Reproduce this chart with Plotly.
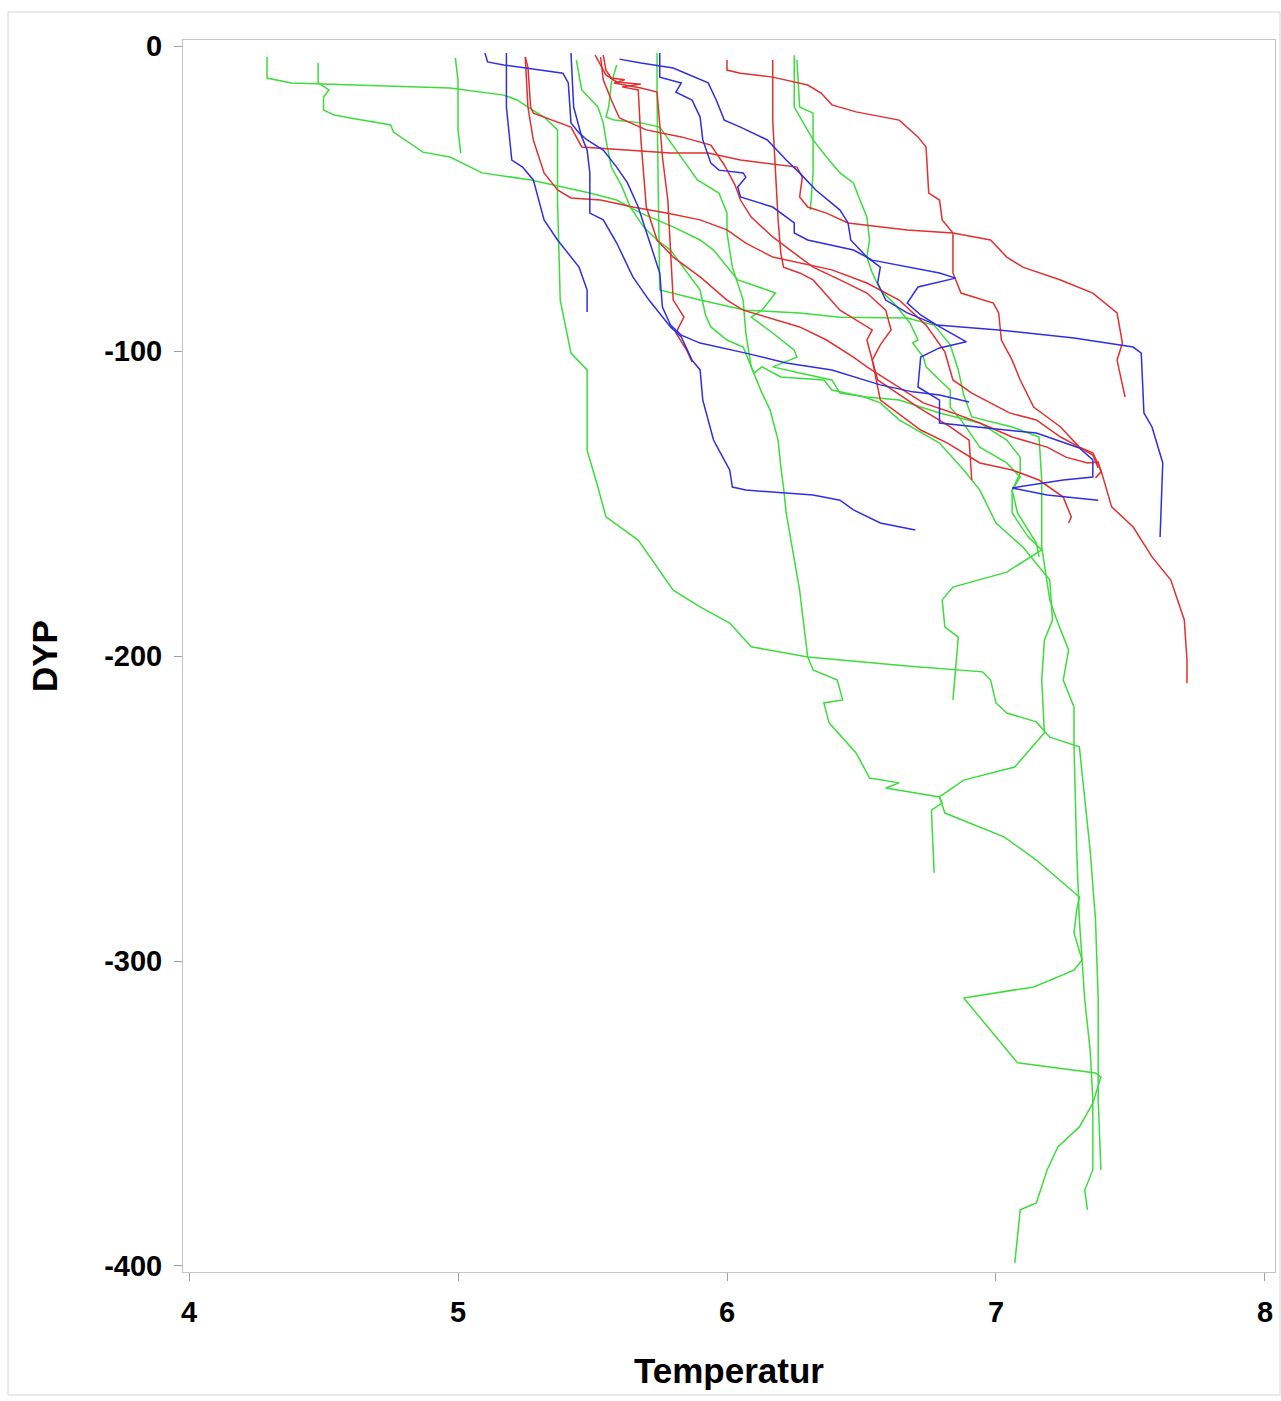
import plotly.graph_objects as go

# ---- Profile data: Temperatur (x) and DYP (y) ----
# Blue profiles
b1_t = [5.10, 5.11, 5.17, 5.39, 5.41, 5.42, 5.45, 5.48, 5.54, 5.59, 5.63, 5.67, 5.71, 5.75, 5.76, 5.79, 5.83, 5.90, 6.07, 6.22, 6.39, 6.57, 6.69, 6.79, 6.90]
b1_d = [-2.3, -5.2, -6.2, -8.9, -12.1, -25.2, -28.5, -30.8, -34.1, -39.7, -44.9, -52.8, -63.6, -74.4, -85.6, -91.5, -94.8, -97.4, -100.7, -103.9, -106.2, -111.1, -113.4, -114.4, -116.7]

b2_t = [5.18, 5.18, 5.20, 5.24, 5.28, 5.32, 5.37, 5.45, 5.48, 5.48]
b2_d = [-2.3, -20.0, -37.4, -39.7, -43.9, -57.0, -63.6, -72.5, -80.0, -87.2]

b3_t = [5.42, 5.43, 5.46, 5.48, 5.49, 5.49, 5.54, 5.59, 5.65, 5.71, 5.79, 5.83, 5.87, 5.90, 5.91, 5.95, 5.97, 6.01, 6.02, 6.07, 6.32, 6.42, 6.47, 6.57, 6.70]
b3_d = [-2.3, -20.0, -29.8, -34.1, -41.6, -54.8, -57.0, -64.6, -75.7, -83.3, -92.1, -95.4, -103.0, -106.2, -116.1, -129.2, -132.5, -139.0, -144.6, -145.6, -147.2, -148.9, -152.1, -156.4, -158.7]

b4_t = [5.60, 5.68, 5.80, 5.93, 5.96, 5.99, 6.05, 6.15, 6.22, 6.27, 6.33, 6.42, 6.45, 6.46, 6.52, 6.57, 6.56, 6.59, 6.67, 6.78, 7.01, 7.29, 7.51, 7.54, 7.55, 7.58, 7.62, 7.61]
b4_d = [-4.3, -5.6, -7.2, -12.1, -17.7, -24.3, -26.6, -30.8, -37.4, -41.6, -47.2, -53.8, -58.0, -63.6, -69.2, -72.5, -77.7, -83.3, -87.5, -91.5, -93.1, -95.7, -98.7, -100.7, -120.3, -124.9, -136.7, -161.0]

b5_t = [5.75, 5.75, 5.83, 5.81, 5.87, 5.90, 5.91, 5.94, 5.97, 6.06, 6.07, 6.04, 6.05, 6.17, 6.25, 6.25, 6.30, 6.47, 6.54, 6.79, 6.85, 6.71, 6.67, 6.72, 6.78, 6.89, 6.79, 6.72, 6.71, 6.79, 6.79, 7.15, 7.31, 7.36, 7.36, 7.25, 7.06, 7.19, 7.38]
b5_d = [-2.3, -10.2, -12.1, -15.1, -17.7, -23.3, -30.8, -38.4, -40.7, -41.6, -43.0, -46.2, -49.5, -52.8, -58.0, -61.3, -63.6, -66.9, -70.2, -74.4, -76.1, -79.0, -84.3, -88.2, -91.5, -97.0, -99.0, -102.0, -111.8, -116.1, -123.6, -126.9, -131.8, -135.7, -141.3, -142.3, -144.9, -147.2, -148.9]

# Red profiles
r1_t = [5.25, 5.26, 5.27, 5.28, 5.42, 5.46, 5.79, 5.93, 6.05, 6.20, 6.26, 6.28, 6.27, 6.30, 6.37, 6.45, 6.67, 6.84, 6.98, 7.04, 7.10, 7.24, 7.36, 7.45, 7.47, 7.45, 7.48]
r1_d = [-3.6, -6.9, -20.0, -22.0, -26.6, -33.1, -35.1, -35.1, -37.4, -39.0, -39.7, -43.0, -49.5, -52.8, -54.8, -58.0, -60.3, -61.3, -63.6, -69.2, -72.5, -76.7, -81.0, -87.5, -97.4, -103.0, -115.1]

r2_t = [5.25, 5.26, 5.28, 5.32, 5.37, 5.42, 5.53, 5.65, 5.78, 5.90, 6.00, 6.07, 6.17, 6.27, 6.39, 6.52, 6.64, 6.74, 6.81, 6.84, 6.91, 7.05, 7.15, 7.24, 7.31, 7.36, 7.39, 7.43, 7.51, 7.58, 7.65, 7.70, 7.71, 7.71]
r2_d = [-3.6, -20.0, -30.8, -41.6, -47.2, -49.8, -50.5, -52.8, -54.8, -57.0, -60.3, -64.6, -69.2, -71.1, -73.4, -77.7, -83.3, -91.5, -100.3, -109.5, -113.8, -120.3, -122.6, -128.2, -131.5, -133.4, -139.0, -151.1, -157.7, -167.5, -175.1, -188.2, -201.3, -208.9]

r3_t = [5.51, 5.53, 5.55, 5.59, 5.68, 5.61, 5.67, 5.68, 5.69, 5.70, 5.74, 5.80, 5.90, 6.00, 6.06, 6.15, 6.27, 6.37, 6.47, 6.52, 6.58, 6.64, 6.73, 6.84, 6.94, 7.06, 7.19, 7.26, 7.34, 7.38, 7.39, 7.37]
r3_d = [-3.0, -6.2, -9.5, -11.8, -12.5, -13.4, -14.4, -30.8, -41.6, -52.8, -63.6, -69.2, -75.7, -83.3, -86.6, -88.9, -92.1, -96.4, -102.0, -105.2, -108.5, -111.8, -117.0, -120.3, -123.6, -128.2, -131.5, -134.8, -136.7, -136.4, -139.7, -141.6]

r4_t = [5.54, 5.55, 5.57, 5.62, 5.58, 5.68, 5.74, 5.75, 5.76, 5.78, 5.79, 5.80, 5.84, 5.81, 5.85, 5.87]
r4_d = [-3.0, -7.9, -10.5, -11.1, -12.1, -13.8, -15.1, -25.2, -36.4, -50.5, -66.9, -83.3, -88.9, -94.1, -99.7, -103.6]

r5_t = [6.00, 6.00, 6.05, 6.17, 6.30, 6.35, 6.39, 6.48, 6.64, 6.71, 6.74, 6.75, 6.79, 6.80, 6.84, 6.84, 6.87, 6.99, 7.01, 7.02, 7.06, 7.09, 7.14, 7.24, 7.31, 7.36, 7.38]
r5_d = [-4.6, -7.9, -8.9, -10.2, -12.8, -15.4, -19.3, -21.6, -24.3, -29.8, -33.1, -48.2, -50.5, -57.0, -61.3, -74.4, -81.0, -84.3, -87.5, -96.4, -103.0, -109.5, -118.4, -124.9, -131.5, -134.1, -138.4]

r6_t = [6.17, 6.17, 6.18, 6.19, 6.20, 6.21, 6.27, 6.32, 6.42, 6.54, 6.52, 6.56, 6.71, 6.83, 6.90, 6.91]
r6_d = [-4.6, -24.3, -40.7, -57.0, -67.9, -72.5, -74.4, -76.7, -86.6, -93.1, -96.4, -109.5, -118.4, -124.9, -129.2, -142.3]

r7_t = [5.53, 5.54, 5.57, 5.60, 5.70, 5.83, 5.94, 5.99, 6.03, 6.05, 6.09, 6.17, 6.25, 6.32, 6.42, 6.52, 6.59, 6.61, 6.57, 6.54, 6.57, 6.72, 6.82, 6.94, 7.06, 7.16, 7.25, 7.28, 7.27]
r7_d = [-3.6, -11.1, -17.7, -23.6, -27.5, -29.8, -32.5, -39.0, -45.6, -50.5, -56.1, -62.6, -67.9, -72.5, -76.7, -81.0, -86.6, -93.1, -98.0, -103.0, -116.1, -125.9, -130.2, -136.7, -139.0, -142.3, -147.9, -154.4, -156.4]

# Green profiles
g1_t = [4.29, 4.29, 4.38, 4.52, 4.97, 5.17, 5.22, 5.26, 5.32, 5.37, 5.37, 5.38, 5.42, 5.48, 5.48, 5.52, 5.55, 5.67, 5.80, 5.90, 6.01, 6.09, 6.30, 6.67, 6.95, 6.98, 7.00, 7.04, 7.15, 7.20, 7.31, 7.32, 7.35, 7.37, 7.38, 7.38, 7.39]
g1_d = [-3.6, -10.5, -12.1, -12.5, -13.8, -16.1, -17.7, -20.0, -23.3, -27.5, -50.5, -83.3, -100.7, -106.2, -132.5, -144.6, -154.4, -162.0, -178.4, -183.9, -189.2, -197.0, -200.3, -203.3, -205.2, -207.9, -215.4, -218.7, -221.6, -226.6, -229.8, -238.4, -263.6, -286.6, -312.8, -345.6, -368.5]

g2_t = [4.48, 4.48, 4.52, 4.50, 4.50, 4.54, 4.60, 4.75, 4.76, 4.87, 4.97, 5.09, 5.27, 5.49, 5.59, 5.68, 5.80, 5.90, 5.95, 6.00, 6.04, 6.15, 6.18, 6.13, 6.09, 6.17, 6.25, 6.26, 6.17, 6.27, 6.39, 6.42, 6.52, 6.64, 6.79, 6.94, 7.04, 7.09, 7.09, 7.06, 7.08, 7.15, 7.16]
g2_d = [-5.6, -12.1, -14.4, -16.7, -21.0, -22.6, -23.6, -25.9, -28.2, -34.8, -36.4, -41.6, -43.9, -48.2, -50.5, -54.8, -59.3, -63.6, -66.9, -72.5, -76.7, -80.0, -81.0, -86.6, -88.9, -94.1, -99.7, -102.0, -105.2, -107.2, -109.5, -113.8, -115.1, -116.1, -120.3, -123.6, -129.2, -134.8, -140.0, -145.6, -153.1, -163.0, -167.5]

g3_t = [4.99, 5.00, 5.00, 5.00, 5.01]
g3_d = [-3.9, -11.1, -20.0, -27.5, -35.1]

g4_t = [5.59, 5.58, 5.57, 5.56, 5.55, 5.58, 5.68, 5.75, 5.83, 5.89, 5.97, 6.00, 6.00, 6.02, 6.06, 6.07, 6.09, 6.11, 6.13, 6.16, 6.19, 6.20, 6.21, 6.22, 6.25, 6.27, 6.28, 6.30, 6.32, 6.41, 6.43, 6.36, 6.38, 6.48, 6.53, 6.64, 6.59, 6.79, 6.80, 6.76, 6.77]
g4_d = [-6.2, -8.9, -12.1, -20.0, -23.3, -24.3, -25.2, -26.6, -36.4, -43.9, -48.2, -54.8, -61.3, -72.5, -83.3, -94.1, -105.2, -109.5, -113.8, -119.3, -129.2, -138.0, -144.6, -153.1, -168.5, -178.4, -185.9, -200.3, -204.6, -207.9, -214.4, -215.4, -222.0, -231.8, -240.0, -241.6, -243.3, -246.2, -248.2, -250.5, -271.1]

g5_t = [5.74, 5.74, 5.745, 5.75, 5.90, 6.07, 6.27, 6.42, 6.67, 6.77, 6.83, 6.86, 6.88, 6.91, 7.06, 7.16, 7.17, 7.17, 7.17, 7.20, 7.23, 7.27, 7.25, 7.29, 7.29, 7.30, 7.31, 7.33, 7.35, 7.36, 7.36, 7.33, 7.34]
g5_d = [-2.3, -17.7, -50.5, -80.0, -83.3, -86.6, -87.5, -88.9, -89.2, -91.5, -98.0, -106.2, -114.4, -121.6, -124.9, -128.2, -142.3, -151.1, -164.3, -181.6, -189.2, -198.0, -207.9, -216.7, -229.8, -263.6, -286.6, -312.8, -329.2, -345.6, -368.5, -375.1, -381.6]

g6_t = [6.25, 6.25, 6.32, 6.37, 6.42, 6.47, 6.49, 6.52, 6.53, 6.52, 6.54, 6.57, 6.62, 6.68, 6.71, 6.69, 6.73, 6.74, 6.79, 6.83, 6.83, 6.87, 6.94, 7.04, 7.09, 7.06, 7.06, 7.12, 7.17, 7.04, 6.84, 6.80, 6.81, 6.86, 6.84]
g6_d = [-3.0, -20.0, -30.8, -36.4, -41.6, -44.9, -49.5, -56.1, -63.6, -69.2, -74.4, -80.0, -84.3, -90.8, -96.4, -97.4, -102.0, -105.2, -109.5, -112.8, -118.4, -122.6, -131.5, -136.7, -141.3, -145.6, -153.1, -161.0, -165.2, -172.5, -177.4, -181.6, -190.5, -193.8, -214.4]

g7_t = [6.26, 6.27, 6.32, 6.32, 6.32, 6.31]
g7_d = [-4.6, -20.0, -22.0, -30.8, -41.6, -53.8]

g8_t = [5.44, 5.46, 5.52, 5.54, 5.55, 5.57, 5.61, 5.64, 5.69, 5.74, 5.79, 5.86, 5.90, 5.92, 5.94, 6.00, 6.06, 6.10, 6.13, 6.20, 6.36, 6.39, 6.51, 6.57, 6.64, 6.79, 6.88, 6.94, 7.00, 7.10, 7.16, 7.20, 7.21, 7.18, 7.17, 7.18, 7.07, 6.88, 6.79, 6.81, 7.03, 7.15, 7.31, 7.30, 7.29, 7.32, 7.29, 7.14, 6.88, 6.98, 7.08, 7.37, 7.39, 7.36, 7.31, 7.23, 7.19, 7.15, 7.09, 7.07]
g8_d = [-4.6, -14.4, -20.0, -25.2, -30.8, -39.7, -46.2, -52.8, -59.3, -63.6, -66.9, -75.1, -80.0, -88.2, -92.1, -96.4, -98.7, -107.2, -105.2, -108.5, -109.5, -112.8, -115.1, -117.0, -122.6, -130.2, -139.0, -145.6, -156.4, -164.3, -170.8, -175.1, -188.2, -194.8, -207.9, -225.2, -236.4, -240.7, -246.2, -251.5, -259.3, -266.9, -279.0, -283.3, -290.8, -299.7, -303.0, -308.5, -312.1, -322.6, -333.4, -336.7, -338.0, -346.6, -354.4, -361.0, -368.5, -379.3, -381.6, -399.0]

x_ticks = [4, 5, 6, 7, 8]
y_ticks = [0, -100, -200, -300, -400]

GREEN = "#3ddc3d"
RED = "#e0302f"
BLUE = "#2f2fe0"

series = [
    (g1_t, g1_d, GREEN), (g2_t, g2_d, GREEN), (g3_t, g3_d, GREEN), (g4_t, g4_d, GREEN),
    (g5_t, g5_d, GREEN), (g6_t, g6_d, GREEN), (g7_t, g7_d, GREEN), (g8_t, g8_d, GREEN),
    (r1_t, r1_d, RED), (r2_t, r2_d, RED), (r3_t, r3_d, RED), (r4_t, r4_d, RED),
    (r5_t, r5_d, RED), (r6_t, r6_d, RED), (r7_t, r7_d, RED),
    (b1_t, b1_d, BLUE), (b2_t, b2_d, BLUE), (b3_t, b3_d, BLUE), (b4_t, b4_d, BLUE), (b5_t, b5_d, BLUE),
]

fig = go.Figure()
for t, d, c in series:
    fig.add_trace(go.Scatter(x=t, y=d, mode="lines", line=dict(color=c, width=1.5),
                             showlegend=False, hoverinfo="skip"))

W, H = 1281, 1401
L, R, T, B = 183, 6, 40, 129

tickfont = dict(family="Liberation Sans, Arial, sans-serif", size=29, color="black", weight="bold")

fig.update_layout(
    width=W, height=H,
    margin=dict(l=L, r=R, t=T, b=B, pad=0),
    paper_bgcolor="white", plot_bgcolor="white",
    xaxis=dict(range=[3.9777, 8.0372], tickvals=x_ticks, ticktext=[str(v) for v in x_ticks],
               showgrid=False, zeroline=False, showline=True, mirror=True,
               linecolor="#c4c4c4", linewidth=1, ticks="outside", ticklen=8,
               tickcolor="#a0a0a0", tickwidth=1, tickfont=tickfont, ticklabelstandoff=6),
    yaxis=dict(range=[-401.97, 1.97], tickvals=y_ticks, ticktext=[str(v) for v in y_ticks],
               showgrid=False, zeroline=False, showline=True, mirror=True,
               linecolor="#c4c4c4", linewidth=1, ticks="outside", ticklen=8,
               tickcolor="#a0a0a0", tickwidth=1, tickfont=tickfont, ticklabelstandoff=6),
    annotations=[
        dict(text="Temperatur", xref="paper", yref="paper", x=0.5, y=0, xanchor="center",
             yanchor="middle", yshift=-98, showarrow=False,
             font=dict(family="Liberation Sans, Arial, sans-serif", size=35, color="black", weight="bold")),
        dict(text="DYP", xref="paper", yref="paper", x=0, y=0.5, xanchor="center",
             yanchor="middle", xshift=-139, textangle=-90, showarrow=False,
             font=dict(family="Liberation Sans, Arial, sans-serif", size=35, color="black", weight="bold")),
    ],
    shapes=[
        dict(type="rect", xref="paper", yref="paper",
             x0=(8 - L) / 1092, x1=(1280 - L) / 1092,
             y0=(1272 - 1395) / 1232, y1=(1272 - 12) / 1232,
             line=dict(color="#d4d4d4", width=1), fillcolor="rgba(0,0,0,0)", layer="below"),
    ],
)

fig.write_html("out.html", include_plotlyjs=True, config={"displayModeBar": False},
               post_script="document.body.style.margin='0';document.body.style.overflow='hidden';")
